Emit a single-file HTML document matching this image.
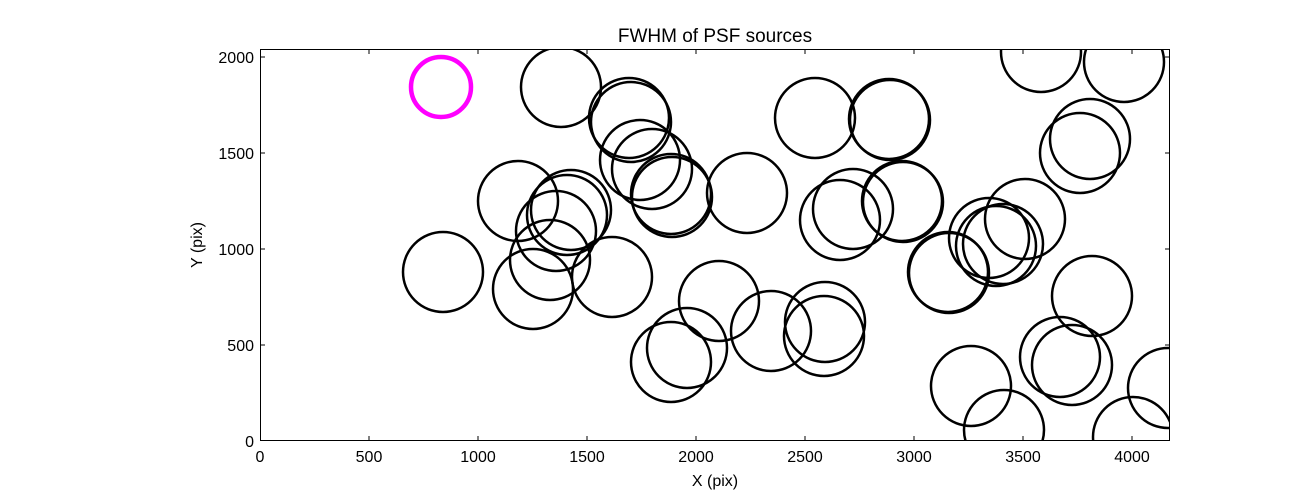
<!DOCTYPE html>
<html><head><style>
html,body{margin:0;padding:0;background:#fff;}
svg{display:block;font-family:"Liberation Sans","DejaVu Sans",sans-serif;}
</style></head><body>
<svg width="1300" height="490" xmlns="http://www.w3.org/2000/svg">
<defs><clipPath id="c"><rect x="260" y="49" width="910" height="392"/></clipPath></defs>
<rect width="1300" height="490" fill="#fff"/>
<g clip-path="url(#c)" fill="none" stroke="#000" stroke-width="2.5">
<circle cx="443" cy="272" r="40"/>
<circle cx="518" cy="201" r="40"/>
<circle cx="533" cy="289" r="40"/>
<circle cx="550" cy="260" r="40"/>
<circle cx="556" cy="231" r="40"/>
<circle cx="567" cy="215" r="40"/>
<circle cx="571" cy="210" r="40"/>
<circle cx="561" cy="87" r="40"/>
<circle cx="612" cy="277" r="40"/>
<circle cx="629" cy="118" r="40"/>
<circle cx="631" cy="122" r="40"/>
<circle cx="640" cy="160" r="40"/>
<circle cx="652" cy="169" r="40"/>
<circle cx="671" cy="194" r="40"/>
<circle cx="672" cy="197" r="40"/>
<circle cx="671" cy="362" r="40"/>
<circle cx="687" cy="348" r="40"/>
<circle cx="719" cy="301" r="40"/>
<circle cx="747" cy="193" r="40"/>
<circle cx="771" cy="331" r="40"/>
<circle cx="815" cy="118" r="40"/>
<circle cx="825" cy="322" r="40"/>
<circle cx="824" cy="336" r="40"/>
<circle cx="840" cy="220" r="40"/>
<circle cx="853" cy="209" r="40"/>
<circle cx="889" cy="119" r="40"/>
<circle cx="890" cy="120" r="40"/>
<circle cx="902" cy="201" r="40"/>
<circle cx="903" cy="202" r="40"/>
<circle cx="948" cy="272" r="40"/>
<circle cx="949" cy="273" r="40"/>
<circle cx="971" cy="386" r="40"/>
<circle cx="989" cy="238" r="40"/>
<circle cx="996" cy="246" r="40"/>
<circle cx="1003" cy="244" r="40"/>
<circle cx="1004" cy="430" r="40"/>
<circle cx="1025" cy="219" r="40"/>
<circle cx="1041" cy="52" r="40"/>
<circle cx="1060" cy="357" r="40"/>
<circle cx="1072" cy="365" r="40"/>
<circle cx="1080" cy="153" r="40"/>
<circle cx="1090" cy="139" r="40"/>
<circle cx="1092" cy="296" r="40"/>
<circle cx="1124" cy="62" r="40"/>
<circle cx="1133" cy="437" r="40"/>
<circle cx="1168" cy="388" r="40"/>
</g>
<circle cx="441" cy="87" r="30" fill="none" stroke="#ff00ff" stroke-width="4.5"/>
<rect x="260.5" y="49.5" width="909" height="391" fill="none" stroke="#000" stroke-width="1"/>
<g stroke="#000" stroke-width="1">
<line x1="369" y1="441" x2="369" y2="436"/><line x1="369" y1="49" x2="369" y2="54"/>
<line x1="478" y1="441" x2="478" y2="436"/><line x1="478" y1="49" x2="478" y2="54"/>
<line x1="587" y1="441" x2="587" y2="436"/><line x1="587" y1="49" x2="587" y2="54"/>
<line x1="696" y1="441" x2="696" y2="436"/><line x1="696" y1="49" x2="696" y2="54"/>
<line x1="805" y1="441" x2="805" y2="436"/><line x1="805" y1="49" x2="805" y2="54"/>
<line x1="914" y1="441" x2="914" y2="436"/><line x1="914" y1="49" x2="914" y2="54"/>
<line x1="1023" y1="441" x2="1023" y2="436"/><line x1="1023" y1="49" x2="1023" y2="54"/>
<line x1="1132" y1="441" x2="1132" y2="436"/><line x1="1132" y1="49" x2="1132" y2="54"/>
<line x1="260" y1="345" x2="265" y2="345"/><line x1="1170" y1="345" x2="1165" y2="345"/>
<line x1="260" y1="249" x2="265" y2="249"/><line x1="1170" y1="249" x2="1165" y2="249"/>
<line x1="260" y1="153" x2="265" y2="153"/><line x1="1170" y1="153" x2="1165" y2="153"/>
<line x1="260" y1="57" x2="265" y2="57"/><line x1="1170" y1="57" x2="1165" y2="57"/>
</g>
<g font-size="16" fill="#000" text-anchor="middle">
<text x="260" y="462">0</text><text x="369" y="462">500</text><text x="478" y="462">1000</text>
<text x="587" y="462">1500</text><text x="696" y="462">2000</text><text x="805" y="462">2500</text>
<text x="914" y="462">3000</text><text x="1023" y="462">3500</text><text x="1132" y="462">4000</text>
</g>
<g font-size="16" fill="#000" text-anchor="end">
<text x="254" y="447">0</text><text x="254" y="351">500</text><text x="254" y="255">1000</text>
<text x="254" y="159">1500</text><text x="254" y="63">2000</text>
</g>
<text x="715" y="486" font-size="16" text-anchor="middle">X (pix)</text>
<text x="202" y="245" font-size="16" text-anchor="middle" transform="rotate(-90 202 245)">Y (pix)</text>
<text x="715" y="42" font-size="19" text-anchor="middle">FWHM of PSF sources</text>
</svg>
</body></html>
